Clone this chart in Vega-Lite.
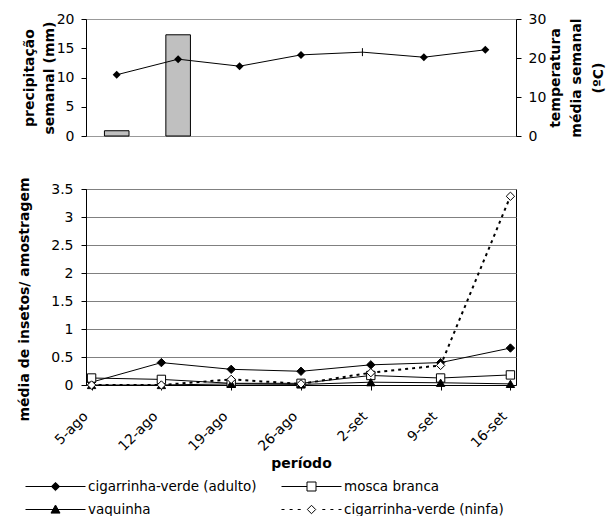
{
  "$schema": "https://vega.github.io/schema/vega-lite/v6.json",
  "padding": {"left": 16, "top": 11, "right": 0, "bottom": 0},
  "spacing": 32,
  "datasets": {
    "clima": [
      {"semana": "5-ago", "precipitacao": 0.9, "temperatura": 15.7},
      {"semana": "12-ago", "precipitacao": 17.3, "temperatura": 19.7},
      {"semana": "19-ago", "precipitacao": 0, "temperatura": 17.9},
      {"semana": "26-ago", "precipitacao": 0, "temperatura": 20.8},
      {"semana": "2-set", "precipitacao": 0, "temperatura": 21.5},
      {"semana": "9-set", "precipitacao": 0, "temperatura": 20.2},
      {"semana": "16-set", "precipitacao": 0, "temperatura": 22.1}
    ],
    "insetos": [
      {"semana": "5-ago", "serie": "cigarrinha-verde (adulto)", "valor": 0.05},
      {"semana": "12-ago", "serie": "cigarrinha-verde (adulto)", "valor": 0.40},
      {"semana": "19-ago", "serie": "cigarrinha-verde (adulto)", "valor": 0.28},
      {"semana": "26-ago", "serie": "cigarrinha-verde (adulto)", "valor": 0.245},
      {"semana": "2-set", "serie": "cigarrinha-verde (adulto)", "valor": 0.36},
      {"semana": "9-set", "serie": "cigarrinha-verde (adulto)", "valor": 0.40},
      {"semana": "16-set", "serie": "cigarrinha-verde (adulto)", "valor": 0.66},
      {"semana": "5-ago", "serie": "mosca branca", "valor": 0.125},
      {"semana": "12-ago", "serie": "mosca branca", "valor": 0.10},
      {"semana": "19-ago", "serie": "mosca branca", "valor": 0.03},
      {"semana": "26-ago", "serie": "mosca branca", "valor": 0.03},
      {"semana": "2-set", "serie": "mosca branca", "valor": 0.17},
      {"semana": "9-set", "serie": "mosca branca", "valor": 0.125},
      {"semana": "16-set", "serie": "mosca branca", "valor": 0.18},
      {"semana": "5-ago", "serie": "vaquinha", "valor": 0.0},
      {"semana": "12-ago", "serie": "vaquinha", "valor": 0.0},
      {"semana": "19-ago", "serie": "vaquinha", "valor": 0.02},
      {"semana": "26-ago", "serie": "vaquinha", "valor": 0.01},
      {"semana": "2-set", "serie": "vaquinha", "valor": 0.05},
      {"semana": "9-set", "serie": "vaquinha", "valor": 0.04},
      {"semana": "16-set", "serie": "vaquinha", "valor": 0.02},
      {"semana": "5-ago", "serie": "cigarrinha-verde (ninfa)", "valor": 0.0},
      {"semana": "12-ago", "serie": "cigarrinha-verde (ninfa)", "valor": 0.0},
      {"semana": "19-ago", "serie": "cigarrinha-verde (ninfa)", "valor": 0.10},
      {"semana": "26-ago", "serie": "cigarrinha-verde (ninfa)", "valor": 0.02},
      {"semana": "2-set", "serie": "cigarrinha-verde (ninfa)", "valor": 0.22},
      {"semana": "9-set", "serie": "cigarrinha-verde (ninfa)", "valor": 0.35},
      {"semana": "16-set", "serie": "cigarrinha-verde (ninfa)", "valor": 3.37}
    ]
  },
  "vconcat": [
    {
      "width": 430,
      "height": 117,
      "data": {"name": "clima"},
      "view": {"stroke": "#999999"},
      "encoding": {
        "x": {"field": "semana", "type": "ordinal", "sort": null, "axis": null,
              "scale": {"paddingInner": 0.6, "paddingOuter": 0.3}}
      },
      "layer": [
        {
          "transform": [{"filter": "datum.precipitacao > 0"}],
          "mark": {"type": "bar", "fill": "#c0c0c0", "stroke": "black", "strokeWidth": 1},
          "encoding": {
            "y": {"field": "precipitacao", "type": "quantitative",
                  "scale": {"domain": [0, 20], "nice": false},
                  "axis": {"title": ["precipitação", "semanal (mm)"], "values": [0, 5, 10, 15, 20],
                           "titleLineHeight": 20, "labelPadding": 7,
                           "titleX": -64, "titleBaseline": "top", "titleAngle": -90}}
          }
        },
        {
          "encoding": {
            "y": {"field": "temperatura", "type": "quantitative",
                  "scale": {"domain": [0, 30], "nice": false},
                  "axis": {"orient": "right", "title": ["temperatura", "média semanal", "(ºC)"],
                           "values": [0, 10, 20, 30], "titleAngle": -90, "titleLineHeight": 21.5,
                           "labelPadding": 7, "titleX": 32, "titleBaseline": "top"}}
          },
          "layer": [
            {"mark": {"type": "line", "color": "black", "strokeWidth": 1}},
            {"transform": [{"filter": "datum.semana != '2-set'"}],
             "mark": {"type": "point", "shape": "diamond", "filled": true, "color": "black", "size": 64, "opacity": 1}},
            {"transform": [{"filter": "datum.semana == '2-set'"}],
             "mark": {"type": "point", "shape": "M0,-1L0,1", "filled": false, "color": "black", "strokeWidth": 1, "size": 64, "opacity": 1}}
          ]
        }
      ],
      "resolve": {"scale": {"y": "independent"}}
    },
    {
      "width": 430,
      "height": 196,
      "data": {"name": "insetos"},
      "view": {"stroke": "black"},
      "encoding": {
        "x": {"field": "semana", "type": "ordinal", "sort": null,
              "scale": {"type": "point", "padding": 0.08},
              "axis": {"title": "período", "labelAngle": -45, "labelPadding": 19, "labelOffset": -11, "titlePadding": 3}},
        "y": {"field": "valor", "type": "quantitative",
              "scale": {"domain": [0, 3.5], "nice": false},
              "axis": {"title": "média de insetos/ amostragem", "values": [0, 0.5, 1, 1.5, 2, 2.5, 3, 3.5],
                       "format": "~g", "grid": true, "gridColor": "#808080", "gridWidth": 1.2, "labelPadding": 8,
                       "titleX": -69, "titleY": 110, "titleBaseline": "top", "titleAngle": -90}}
      },
      "layer": [
        {"transform": [{"filter": "datum.serie != 'cigarrinha-verde (ninfa)'"}],
         "mark": {"type": "line", "color": "black", "strokeWidth": 1},
         "encoding": {"detail": {"field": "serie"}}},
        {"transform": [{"filter": "datum.serie == 'cigarrinha-verde (ninfa)'"}],
         "mark": {"type": "line", "color": "black", "strokeWidth": 2, "strokeDash": [3, 4]}},
        {"mark": {"type": "point", "filled": true, "stroke": "black", "strokeWidth": 1, "size": 70, "opacity": 1},
         "encoding": {
           "shape": {"field": "serie", "type": "nominal",
                     "scale": {"domain": ["cigarrinha-verde (adulto)", "mosca branca", "vaquinha", "cigarrinha-verde (ninfa)"],
                               "range": ["diamond", "square", "triangle-up", "diamond"]}, "legend": null},
           "fill": {"field": "serie", "type": "nominal",
                    "scale": {"domain": ["cigarrinha-verde (adulto)", "mosca branca", "vaquinha", "cigarrinha-verde (ninfa)"],
                              "range": ["black", "white", "black", "white"]}, "legend": null}
         }},
        {"mark": {"type": "point", "color": "black", "opacity": 0},
         "encoding": {
           "shape": {"field": "serie", "type": "nominal",
                     "scale": {"domain": ["cigarrinha-verde (adulto)", "mosca branca", "vaquinha", "cigarrinha-verde (ninfa)"],
                               "range": [
                                 "M-1,0H1M0,-0.14L0.14,0L0,0.14L-0.14,0ZM-0.04,-0.1H0.04M-0.073,-0.067H0.073M-0.107,-0.033H0.107M-0.107,0.033H0.107M-0.073,0.067H0.073M-0.04,0.1H0.04",
                                 "M-1,0H-0.15M0.15,0H1M-0.15,-0.15H0.15V0.15H-0.15Z",
                                 "M-1,0H1M0,-0.15L0.15,0.12L-0.15,0.12ZM-0.028,-0.1H0.028M-0.046,-0.067H0.046M-0.065,-0.033H0.065M-0.102,0.033H0.102M-0.12,0.067H0.12M-0.139,0.1H0.139",
                                 "M-1,0H-0.9M-0.73,0H-0.63M-0.46,0H-0.36M0.36,0H0.46M0.63,0H0.73M0.9,0H1M0,-0.14L0.14,0L0,0.14L-0.14,0Z"
                               ]},
                     "legend": {"orient": "none", "legendX": -61, "legendY": 290, "columns": 2, "direction": "horizontal",
                                "title": null,
                                "symbolSize": 3600, "symbolStrokeColor": "black", "symbolFillColor": "transparent",
                                "symbolStrokeWidth": 1, "symbolOpacity": 1, "labelFontSize": 13.5, "labelColor": "black",
                                "labelFont": "DejaVu Sans", "labelOffset": 2, "columnPadding": 24, "rowPadding": 8,
                                "clipHeight": 15, "labelLimit": 300}}
         }}
      ],
      "resolve": {"scale": {"shape": "independent"}, "legend": {"shape": "independent"}}
    }
  ],
  "config": {
    "font": "DejaVu Sans",
    "view": {"stroke": null},
    "axis": {
      "labelFont": "DejaVu Sans", "labelFontSize": 14, "labelColor": "black",
      "titleFont": "DejaVu Sans", "titleFontSize": 14, "titleFontWeight": "bold", "titleColor": "black",
      "domainColor": "black", "tickColor": "black", "tickSize": 5, "grid": false
    },
    "legend": {"labelFont": "DejaVu Sans"}
  }
}
